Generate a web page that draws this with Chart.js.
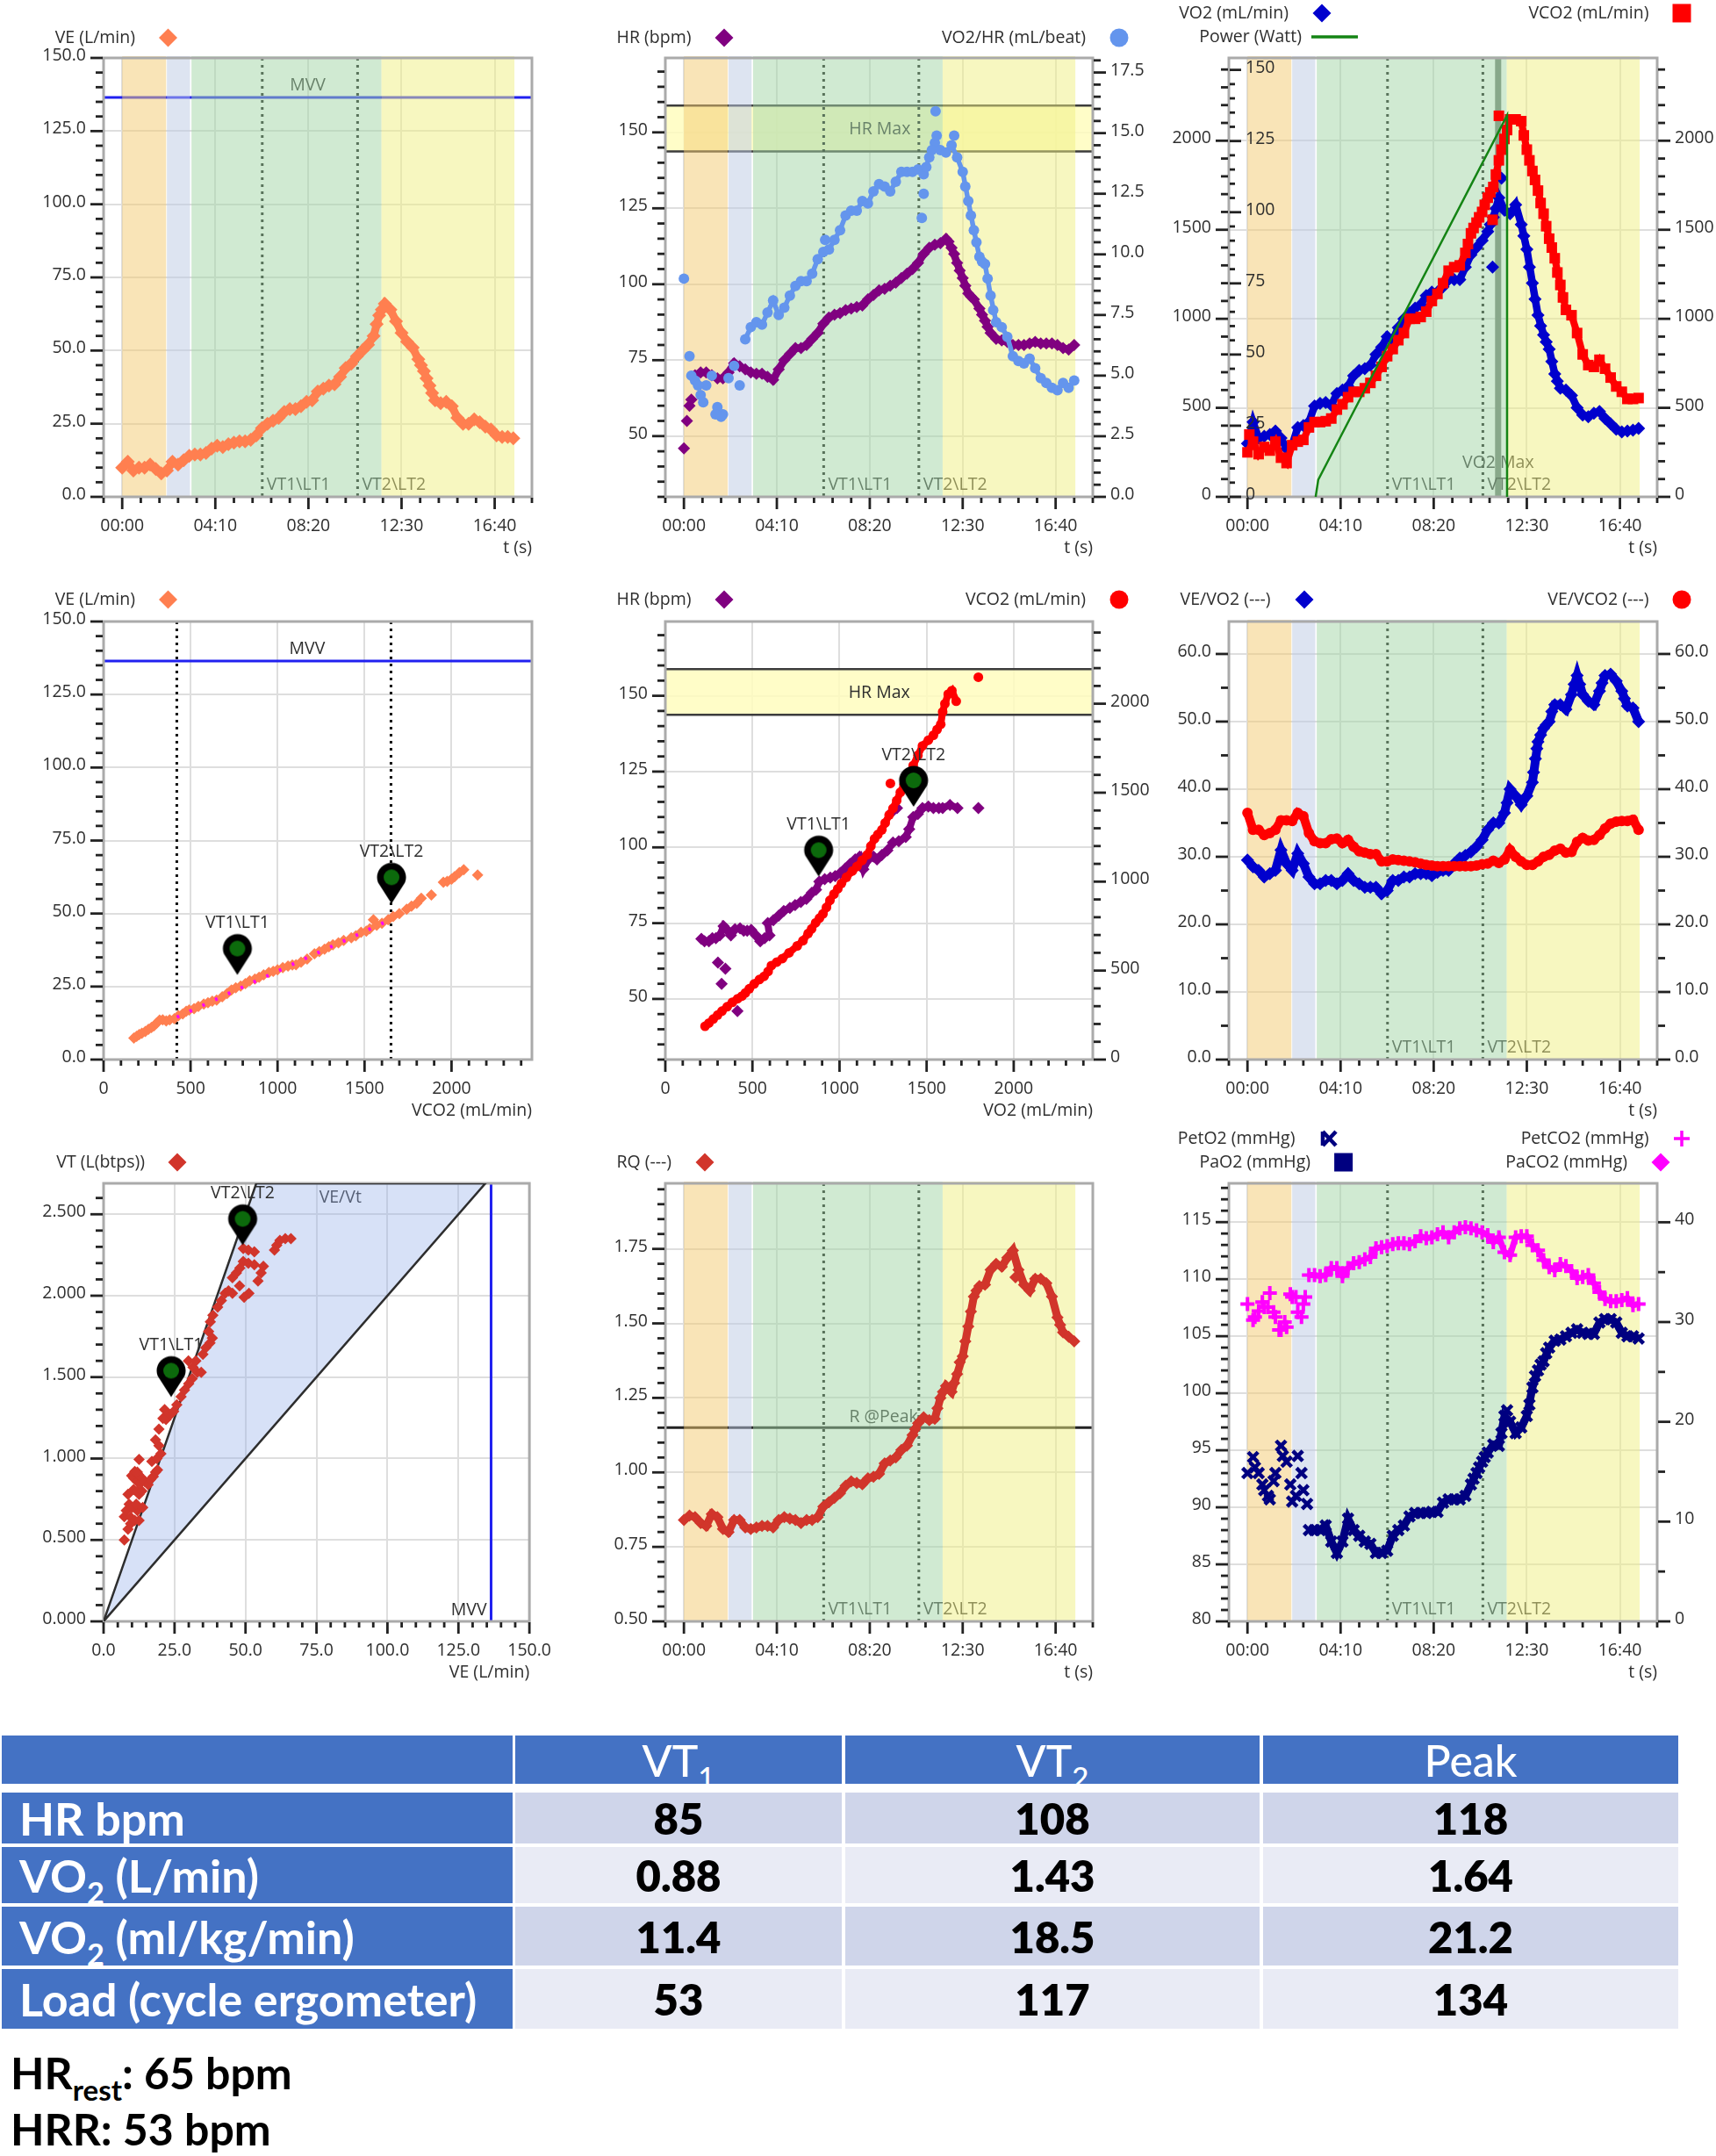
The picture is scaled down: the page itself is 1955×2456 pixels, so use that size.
<!doctype html>
<html><head><meta charset="utf-8">
<script src="https://cdn.jsdelivr.net/npm/chart.js@4/dist/chart.umd.min.js"></script>
<style>
html,body{margin:0;padding:0;background:#fff;width:1955px;height:2456px;overflow:hidden}
canvas{position:absolute;filter:blur(.6px)}
.cell{position:absolute;display:flex;align-items:center;box-sizing:border-box;font-family:Lato,sans-serif;font-weight:700;font-size:49px;white-space:nowrap}
.note{position:absolute;left:12px;font-family:Lato,sans-serif;font-weight:700;font-size:50px;color:#000;white-space:nowrap;line-height:1}
sub{font-size:66%;line-height:0;vertical-align:-0.38em}
</style></head><body>
<script>
const times=[0,15,30,45,60,75,90,105,120,135,150,165,180,195,210,225,240,255,270,285,300,315,330,345,360,375,390,405,420,435,450,465,480,495,510,525,540,555,570,585,600,615,630,645,660,675,690,705,720,735,750,765,780,795,810,825,840,855,870,885,900,915,930,945,960,975,990,1005,1020,1035,1050];
const ve=[10,12,9,10,10,11,9.5,8,9,12,
11,12.5,14,14.5,14.5,15,16.5,17.5,17,18,
18.5,19,19,19.5,21,23.5,25,26,27,29,
30,30,31,32.5,33,36,37,38,38.5,41,
44,45.5,48,50,52,55,62,66,64,60,
56,53,51,47,43,38,33,32,32.5,31,
27,25,25,26.5,25.5,24,23,21,20.5,20.5,
20];
const veExtraT=[683,697,802,817,832];
const veExtra=[59,64,45,40.5,35.5];
const hr=[46,60,70,71,71,70,69,69,71,74,
73,72,71,70.5,70.5,69.5,68.5,72,75,77,
79,79,80,82,84,87,89,90,90.5,91.5,
92,92.5,93,95,96.5,98,98.5,99.5,100.5,102,
103.5,105,107,110,112,113,113.5,115,112,107,
102,97,95,92,88,84,82,81.5,81,80,
80,80,80.5,81,80.5,80.5,80.5,80,79,78.5,
80];
const hrExtraT=[8,20,712,727,742,757,772,802,817];
const hrExtra=[55,62,114,110,104.5,99.5,96,90,86];
const vo2PerHr=[9,5.8,4.8,4.2,4.6,5,3.7,3.4,4.9,5.4,
4.6,6.5,7,7.2,7.1,7.6,8.1,7.5,7.8,8.3,
8.7,8.9,8.9,9.2,9.8,10.1,10.2,10.6,11,11.6,
11.8,11.8,12.2,12.1,12.6,12.9,12.8,12.6,13,13.4,
13.4,13.4,13.5,13.3,14,14.6,14.3,14.2,14.5,14,
13.4,12.2,11,9.9,9.6,8.3,7.2,7,6.6,5.8,
5.6,5.5,5.7,5.3,4.9,4.7,4.5,4.4,4.7,4.5,
4.8];
const vo2PerHrExtraT=[20,38,52,85,100,380,640,645,652,667,677,680,727,757,772,787,802,817,832];
const vo2PerHrExtra=[5,4.6,3.9,3.4,3.3,10.6,11.5,12.5,13.6,14.3,15.9,14.9,14.9,12.8,11.6,10.5,9.7,9,7.7];
const vo2=[300,420,330,340,350,370,330,270,290,390,
400,420,510,525,530,515,580,600,620,680,
710,720,740,800,840,900,880,950,1000,1030,
1060,1080,1130,1150,1150,1180,1220,1220,1220,1290,
1360,1400,1440,1490,1570,1680,1610,1590,1640,1530,
1390,1200,1020,910,830,690,610,600,570,500,
460,450,470,480,440,410,380,365,370,375,
385];
const vo2ExtraT=[652,667,658,682,742,757,772,787,802,817,832];
const vo2Extra=[1530,1620,1290,1790,1465,1290,1110,960,870,760,650];
const vco2=[250,310,240,280,260,310,220,190,290,310,
320,390,420,420,425,440,490,520,560,590,
590,610,640,680,730,790,830,880,920,1000,
1000,1010,1040,1100,1140,1200,1270,1290,1300,1370,
1480,1540,1600,1680,1740,1890,2010,2120,2120,2110,
1950,1830,1720,1590,1450,1340,1190,1050,1020,920,
800,740,730,770,720,670,620,590,550,550,
555];
const vco2ExtraT=[5,592,607,622,637,652,658,667,675,682,697,742,757,772,787,802,817,832,847];
const vco2Extra=[350,1420,1510,1570,1640,1710,1556,1810,2140,1950,2060,2030,1890,1780,1650,1520,1400,1260,1120];
const powerT=[183,190,697,697];
const power=[0,6,134,0];
const veVo2=[29.5,28.5,28,27,27.5,28,31,29,28,30.5,
29,27,26,26,26.5,26.5,26,26.5,27.5,26.5,
26,25.5,25.5,25.5,24.5,25,26.5,26.5,27,27,
27.5,27.5,27.5,27.2,27.7,28,28,29,29.8,30.2,
30.7,31.5,32.5,34,35,35,36.5,40,39,37.7,
39,41,47,49,50,52.5,52.5,51.8,54,56.8,
54,53,52.5,54.5,56.8,57,56,54.5,52.3,52,
50];
const veVo2ExtraT=[697,768,773,777,787,802,817,877,892,952,1012];
const veVo2Extra=[38,42.5,44.5,46,48,49.5,51.5,55.5,55.5,55.7,53.4];
const veVco2=[36.5,34,34,33.2,33.5,34,35.4,35.4,35.3,36.5,
36,33.5,32.3,32,32,32.6,32.7,32,32.5,31.5,
30.8,30.6,30.4,30.4,29.3,29.3,29.6,29.5,29.4,29.3,
29.2,29,28.8,28.7,28.6,28.6,28.6,28.6,28.6,28.6,
28.6,28.7,28.9,29,29.4,29.1,29.6,31,30,29.3,
28.8,28.8,29.3,30,30.3,30.9,31.2,30.6,30.7,32.2,
32.8,32.4,32.5,33.2,34.2,34.9,35.2,35.3,35.3,35.5,
34];
const rq=[.84,.855,.85,.83,.82,.86,.85,.81,.80,.84,
.84,.815,.81,.815,.82,.82,.815,.84,.85,.845,
.84,.83,.84,.84,.85,.885,.90,.915,.93,.955,
.97,.965,.96,.98,.985,.995,1.03,1.04,1.05,1.075,
1.09,1.125,1.165,1.185,1.175,1.18,1.25,1.29,1.27,1.33,
1.39,1.49,1.59,1.625,1.63,1.68,1.70,1.69,1.72,1.745,
1.68,1.63,1.61,1.65,1.65,1.635,1.59,1.52,1.47,1.455,
1.44];
const rqExtraT=[622,682,697,727,742,757,772,787,892,1012];
const rqExtra=[1.145,1.215,1.27,1.30,1.37,1.44,1.54,1.61,1.655,1.495];
const petO2=[93,94.4,93,91.5,90.7,93,95.4,94,90.5,94.5,
91.5,88,88,88,88.4,87,86,87,89,88,
87.5,87,86.8,86,86,86.2,87.5,88,88.4,89.2,
89.5,89.5,89.5,89.6,89.6,90.4,90.7,90.7,90.7,91,
92,93,94,94.8,95.5,95.4,98,97.5,96.5,97,
98,100.5,102,102.8,104,104.6,104.7,105,105.3,105.6,
105.3,105.2,105.2,106.2,106.5,106.5,106.2,105.3,105,105,
104.8];
const petO2ExtraT=[20,40,55,70,95,115,130,145,160,607,622,637,682,697,757,772,787,802];
const petO2Extra=[93.5,92,91,92.3,94.5,92,91,93,90.3,92.5,93.5,94.4,96.5,98.5,99,101.5,102.5,103.5];
const petCo2=[31.8,30.2,31.1,31.5,32.9,30.5,29.2,29.5,32.5,31,
31.8,34.7,34.7,34.6,34.7,35.4,35.4,34.6,35.4,35.9,
36,36.3,36.5,37.4,37.5,37.6,37.8,37.9,37.9,37.8,
38.1,38.6,38.4,38.5,38.8,39,38.5,39,39.4,39.5,
39.4,39.2,39,38.7,38,38.5,37,36.7,38.5,38.6,
38.6,37.7,37.2,36.2,35.5,35.2,35.8,35.6,35.1,34.4,
34.5,34.7,33.9,33,32.3,32.1,32.1,32.2,32.4,31.7,
31.8];
const petCo2ExtraT=[20,40,55,70,85,100,115,130,145,155];
const petCo2Extra=[30.5,32,31.5,31,29.2,30,32.8,32.5,30.5,32.5];

const scatterVco2=[174,190,205,220,240,258,275,290,305,322,340,360,380,407,430,455,475,492,520,545,576,600,625,650,682,710,735,760,788,815,840,870,894,920,950,975,1000,1030,1060,1085,1106,1135,1170,1212,1240,1270,1295,1318,1350,1380,1424,1450,1480,1510,1530,1551,1570,1600,1636,1665,1700,1742,1770,1800,1826,1884,1953,1975,2000,2017,2045,2070,2150];
const scatterVe=[7.4,8,8.6,9,9.6,10.4,11,11.6,12.5,13.5,13.6,13.2,13.6,14,15,15.6,16.5,17,17.4,18.2,19,19.5,20,20.4,21.5,22.6,23.8,24.6,25.2,26,27,27.6,28.2,29,29.8,30.2,30.7,31.5,32,32.4,32.5,33.4,34.4,36.2,37,37.8,38.6,39.3,40,40.8,41.7,42.4,43.6,44,44.8,47.9,46,46.7,47.9,49,50,51.5,52.5,53.5,55.2,56.4,60.7,61,61.8,62.6,64,65,63.2];
const fitVco2=[421,1652];
const fitVe=[14.5,48];
const scatterHrVo2=[207,225,250,270,290,313,334,350,376,400,429,450,470,493,520,545,570,598,588,620,651,680,715,745,778,810,841,865,884,915,947,975,1005,1032,1060,1090,1116,1137,1165,1195,1215,1243,1275,1307,1340,1380,1400,1423,1450,1476,1510,1539,1570,1592,1634,1677,1797,1307,1330,302,345,323,414];
const scatterHr=[69.8,69,69,70,70,71,74,73,71,73,73.3,72.5,72.5,72.8,71,69,70,71,75,76,77.5,79,80,81,82,83,85,86,88.7,89.5,90,90.5,91.5,93,94.5,96,97,92.8,96,97,96,97.5,99,101.6,102,103.4,106,110,111,113,113.5,113,113,113,114,113,113,112,113,62,60,55,46];
const scatterCo2Vo2=[228,250,275,300,325,355,385,415,440,460,482,510,540,567,590,609,640,672,710,757,790,820,840,863,885,905,925,945,968,990,1011,1040,1074,1100,1130,1159,1180,1201,1220,1243,1262,1285,1307,1328,1349,1370,1395,1423,1450,1476,1510,1539,1560,1581,1592,1605,1624,1645,1670,1797,1292];
const scatterCo2=[187,205,228,250,272,297,322,342,357,375,398,425,450,468,495,528,548,568,600,639,668,709,735,769,795,819,855,895,930,960,990,1025,1060,1085,1120,1151,1200,1241,1265,1291,1330,1375,1412,1455,1502,1545,1595,1653,1710,1763,1795,1823,1855,1884,1954,2000,2054,2074,2014,2149,1552];
const scatterVtVe=[7.3,8.6,9.5,7.3,8,9.5,11,12.5,11.9,9,10,11.5,13.8,12.5,8.6,10.6,12,13.5,10.6,11.8,13,9.9,11,12.3,12.5,11.9,13.5,14.5,15.7,16.5,17.5,18.3,19,17,18.8,20.2,19.5,18.3,19.5,20.9,21.5,22,23.5,24.7,25.8,27.3,28.5,30,31.2,29.9,31.5,33,34.4,32.5,35,36,37.5,38.3,37,37.6,38.5,40.2,41.5,42.8,44,45.4,47.9,51.2,49.5,45.4,46.8,48,49.2,51,53.1,56.3,54.4,55.5,49.2,51,53.1,60.2,61,62.1,64,66];
const scatterVt=[.5,.566,.6,.643,.68,.64,.62,.62,.68,.72,.70,.72,.70,.78,.78,.81,.80,.80,.88,.86,.85,.895,.92,.90,.994,.917,.88,.86,.84,.87,.89,.917,.93,.983,1.0,1.03,1.08,1.115,1.18,1.247,1.30,1.24,1.27,1.29,1.33,1.38,1.42,1.46,1.49,1.6,1.56,1.53,1.53,1.60,1.64,1.68,1.71,1.74,1.78,1.84,1.88,1.93,1.97,2.015,2.03,2.015,2.06,2.015,1.99,2.11,2.14,2.17,2.21,2.2,2.19,2.18,2.09,2.14,2.29,2.28,2.27,2.28,2.31,2.34,2.35,2.35];
const wedgeVe=[0,53.8,134.5,0];
const wedgeVt=[0,2.69,2.69,0];

const phaseRanges=[[0,118],[120,182],[186,696],[696,1053]];
const phaseColors=['rgba(243,201,111,.5)','rgba(187,201,227,.5)','rgba(161,213,165,.5)','rgba(239,239,129,.5)'];
const vtTimes=[376,632];
const vtNames=['VT1\\LT1','VT2\\LT2'];
const pinVco2=[769,1655], pinVeA=[29,53.4];
const pinVo2=[880,1425], pinHrA=[90.4,113.4];
const pinVe=[23.8,49], pinVtA=[1.378,2.31];

const tableHeader=['','VT<sub>1</sub>','VT<sub>2</sub>','Peak'];
const rowLabels=['HR bpm','VO<sub>2</sub> (L/min)','VO<sub>2</sub> (ml/kg/min)','Load (cycle ergometer)'];
const vt1Values=['85','0.88','11.4','53'];
const vt2Values=['108','1.43','18.5','117'];
const peakValues=['118','1.64','21.2','134'];

Chart.defaults.animation=false;
const FONT='"Open Sans",sans-serif', FS=19.5, TXT='#2e2e2e';
const ORANGE='#ff7f50',PURPLE='#800080',SKY='#6495ed',BLUE='#0000cd',RED='#ff0000',BRICK='#d1352b',NAVY='#000080',MAG='#ff00ff',GREEN='#148414';
const isMul=(v,m)=>Math.abs(v/m-Math.round(v/m))<1e-6;
const p2=n=>String(n).padStart(2,'0');
const mmss=v=>p2(Math.floor(v/60))+':'+p2(v%60);
const zip=(X,Y,xX=[],xY=[])=>X.concat(xX).map((x,i)=>({x,y:Y.concat(xY)[i]}));

function pinSprite(){
  const c=document.createElement('canvas');c.width=40;c.height=100;
  const g=c.getContext('2d');const cx=20,tip=50,cy=tip-30,r=16.5;
  g.fillStyle='#000';g.beginPath();
  g.arc(cx,cy,r,Math.PI*0.88,Math.PI*0.12);g.lineTo(cx,tip);g.closePath();g.fill();
  g.fillStyle='#0c6a0c';g.beginPath();g.arc(cx,cy,9,0,7);g.fill();
  return c;
}
const PIN=pinSprite();

function marker(g,k,x,y,c){
  g.fillStyle=c;g.strokeStyle=c;g.beginPath();
  if(k==='diamond'){g.moveTo(x,y-10.5);g.lineTo(x+10.5,y);g.lineTo(x,y+10.5);g.lineTo(x-10.5,y);g.closePath();g.fill();}
  else if(k==='circle'){g.arc(x,y,10.5,0,7);g.fill();}
  else if(k==='square'){g.fillRect(x-10.5,y-10.5,21,21);}
  else if(k==='line'){g.lineWidth=3.5;g.moveTo(x,y);g.lineTo(x+53,y);g.stroke();}
  else if(k==='plus'){g.lineWidth=3.5;g.moveTo(x-9,y);g.lineTo(x+9,y);g.moveTo(x,y-9);g.lineTo(x,y+9);g.stroke();}
  else if(k==='x'){g.lineWidth=4.5;g.moveTo(x-7,y-8);g.lineTo(x+8,y+8);g.moveTo(x-7,y+8);g.lineTo(x+8,y-8);g.moveTo(x-7,y-8);g.lineTo(x-7,y+8);g.stroke();}
}

const RIGHT_W=66;
function axisScale(a,pos,extra){
  const maj=a.major;
  return Object.assign({type:'linear',position:pos,min:a.min,max:a.max,
    afterFit:s=>{s.width=a.w??(pos==='right'?RIGHT_W:100);},
    grid:{display:!!a.grid,drawTicks:false,lineWidth:2,color:c=>isMul(c.tick.value,maj)?'#dedede':'transparent'},
    border:{display:false},
    ticks:{stepSize:a.minor,autoSkip:false,includeBounds:false,padding:a.pad??20,labelOffset:-2.5,mirror:!!a.mirror,z:a.mirror?1:0,
      font:{family:FONT,size:FS},color:TXT,callback:v=>isMul(v,maj)?v.toFixed(a.digits):''}},extra||{});
}

function make(s){
  const [cx,cy,w,h]=s.box,[l,t,r,b]=s.plot;
  const cv=document.createElement('canvas');cv.width=w;cv.height=h;cv.style.left=cx+'px';cv.style.top=cy+'px';
  document.body.appendChild(cv);
  const X=s.x;
  const scales={x:{type:'linear',position:'bottom',min:X.min,max:X.max,
    afterFit:sc=>{sc.height=70;},
    grid:{drawTicks:false,lineWidth:2,color:c=>isMul(c.tick.value,X.major)?'#dedede':'transparent'},
    border:{display:false},
    ticks:{stepSize:X.minor,autoSkip:false,includeBounds:false,maxRotation:0,padding:22,font:{family:FONT,size:FS},color:TXT,
      callback:v=>isMul(v,X.major)?(X.fmt?X.fmt(v):(X.digits!=null?v.toFixed(X.digits):String(v))):''},
    title:{display:true,text:X.title,align:'end',color:TXT,font:{family:FONT,size:FS},padding:{top:0,bottom:0}}},
    y:axisScale(Object.assign({grid:true},s.y),'left',{weight:2})};
  if(s.y2)scales.y2=axisScale(s.y2,'right');
  if(s.inner)scales.p=axisScale(Object.assign({w:0,mirror:true,pad:19},s.inner),'left',{weight:1});
  const rightW=s.y2?RIGHT_W:0;
  const overlay={id:'overlay',
    beforeDatasetsDraw(ch){
      const g=ch.ctx,a=ch.chartArea,xs=ch.scales.x,ys=ch.scales.y;g.save();
      if(s.hrBand){const y1=ys.getPixelForValue(s.hrBand[1]),y0=ys.getPixelForValue(s.hrBand[0]);
        g.fillStyle='rgba(255,253,190,.85)';g.fillRect(a.left,y1,a.right-a.left,y0-y1);
        g.strokeStyle='#3c3c3c';g.lineWidth=2.5;g.beginPath();g.moveTo(a.left,y1);g.lineTo(a.right,y1);g.moveTo(a.left,y0);g.lineTo(a.right,y0);g.stroke();}
      (s.hLines||[]).forEach(d=>{const y=ys.getPixelForValue(d.v);g.strokeStyle=d.c;g.lineWidth=d.w;g.beginPath();g.moveTo(a.left,y);g.lineTo(a.right,y);g.stroke();});
      (s.vLines||[]).forEach(d=>{const x=xs.getPixelForValue(d.v);g.strokeStyle=d.c;g.lineWidth=d.w;g.beginPath();g.moveTo(x,a.top);g.lineTo(x,a.bottom);g.stroke();});
      (s.dots||[]).forEach(v=>{const x=xs.getPixelForValue(v);g.strokeStyle='#111';g.lineWidth=3;g.setLineDash([3,5]);g.beginPath();g.moveTo(x,a.top);g.lineTo(x,a.bottom);g.stroke();g.setLineDash([]);});
      g.font=FS+'px '+FONT;g.fillStyle=TXT;g.textBaseline='middle';
      if(s.phases){g.textAlign='left';vtTimes.forEach((v,i)=>g.fillText(vtNames[i],xs.getPixelForValue(v)+5,a.bottom-14));}
      (s.texts||[]).forEach(d=>{g.textAlign=d.a||'center';g.fillText(d.t,xs.getPixelForValue(d.x),ys.getPixelForValue(d.y));});
      if(s.phases){phaseRanges.forEach((pr,i)=>{const x0=xs.getPixelForValue(pr[0]),x1=xs.getPixelForValue(pr[1]);g.fillStyle=phaseColors[i];g.fillRect(x0,a.top-2,x1-x0,a.bottom-a.top+3);});}
      g.strokeStyle='#aaa';g.lineWidth=3;g.strokeRect(a.left,a.top,a.right-a.left,a.bottom-a.top);
      g.strokeStyle='#222';g.lineWidth=2.8;
      Object.values(ch.scales).forEach(sc=>{
        const cfg=sc.id==='x'?X:sc.id==='y'?s.y:sc.id==='y2'?s.y2:s.inner;
        sc.ticks.forEach(tk=>{const v=tk.value,px=sc.getPixelForValue(v),M=isMul(v,cfg.major);
          g.beginPath();
          if(sc.id==='x'){g.moveTo(px,a.bottom+1);g.lineTo(px,a.bottom+(M?14:7));}
          else if(sc.id==='y'){g.moveTo(a.left-1,px);g.lineTo(a.left-(M?15:9),px);}
          else if(sc.id==='y2'){g.moveTo(a.right+1,px);g.lineTo(a.right+(M?15:9),px);}
          else{g.moveTo(a.left+1,px);g.lineTo(a.left+(M?14:7),px);}
          g.stroke();});
      });
      g.restore();
    },
    afterDatasetsDraw(ch){
      const g=ch.ctx,xs=ch.scales.x,ys=ch.scales.y;g.save();
      g.font=FS+'px '+FONT;g.fillStyle=TXT;g.textAlign='center';g.textBaseline='middle';
      if(s.pins)s.pins.x.forEach((v,i)=>g.fillText(vtNames[i],xs.getPixelForValue(v),ys.getPixelForValue(s.pins.y[i])-59));
      (s.legend||[]).forEach(e=>{
        const ly=e.y-cy;
        g.textAlign='right';g.fillStyle=TXT;g.fillText(e.t,e.tx-cx,ly);
        marker(g,e.k,e.mx-cx,ly,e.c);
      });
      g.restore();
    }};
  const ds=s.datasets.slice();
  if(s.pins)ds.unshift({type:'scatter',data:zip(s.pins.x,s.pins.y),pointStyle:PIN,pointRadius:10,clip:false,yAxisID:'y'});
  return new Chart(cv,{type:'scatter',data:{datasets:ds},
    options:{responsive:false,devicePixelRatio:1,animation:false,
      layout:{padding:{left:l-cx-100,top:t-cy,right:cx+w-r-rightW,bottom:cy+h-b-70}},
      plugins:{legend:{display:false},tooltip:{enabled:false},title:{display:false}},scales},
    plugins:[overlay]});
}
const pt=(data,c,style,r,axis,extra)=>Object.assign({data,backgroundColor:c,borderColor:c,pointStyle:style,pointRadius:r,pointBorderWidth:0,showLine:false,yAxisID:axis||'y'},extra||{});
/* the reference's marks overlap into a solid chain: join the same readings under the markers */
const chain=(X,Y,c,w,axis,from=-1e9,to=1e9)=>({type:'line',data:zip(X,Y).filter(p=>p.x>=from&&p.x<=to),borderColor:c,borderWidth:w,pointRadius:0,tension:0,yAxisID:axis||'y'});

const tx={min:-50,max:1100,minor:50,major:250,fmt:mmss,title:'t (s)'};
const C1=[0,650],C2=[650,670],C3=[1300,655];
const R1=[0,650],R2=[650,650],R3=[1285,675];
const box=(c,r)=>[c[0],r[0],c[1],r[1]];
const L1=[118,606],L2=[758,1245],L3=[1400,1888];
const Y1=[66,566],Y2=[708,1207],Y3=[1348,1847];
const pl=(a,b)=>[a[0],b[0],a[1],b[1]];

/* 1: VE vs time */
make({box:box(C1,R1),plot:pl(L1,Y1),x:tx,phases:true,dots:vtTimes,
  y:{min:0,max:150,minor:5,major:25,digits:1},
  hLines:[{v:136.5,c:'#2020f0',w:3}],texts:[{t:'MVV',x:498,y:140.5}],
  legend:[{t:'VE (L/min)',tx:154,mx:191.5,y:43,k:'diamond',c:ORANGE}],
  datasets:[pt(zip(times,ve,veExtraT,veExtra),ORANGE,'rectRot',8),chain(times,ve,ORANGE,9)]});

/* 2: HR and VO2/HR */
make({box:box(C2,R1),plot:pl(L2,Y1),x:tx,phases:true,dots:vtTimes,
  y:{min:30,max:174.5,minor:5,major:25,digits:0},
  y2:{min:0,max:18.1,minor:.5,major:2.5,digits:1},
  hrBand:[143.7,158.8],texts:[{t:'HR Max',x:527,y:151}],
  legend:[{t:'HR (bpm)',tx:787.5,mx:825,y:43,k:'diamond',c:PURPLE},{t:'VO2/HR (mL/beat)',tx:1237,mx:1275,y:43,k:'circle',c:SKY}],
  datasets:[pt(zip(times,vo2PerHr,vo2PerHrExtraT,vo2PerHrExtra),SKY,'circle',6,'y2'),chain(times,vo2PerHr,SKY,5.5,'y2',160),
    pt(zip(times,hr,hrExtraT,hrExtra),PURPLE,'rectRot',7),chain(times,hr,PURPLE,8.5,'y',30)]});

/* 3: VO2, VCO2, power */
make({box:box(C3,R1),plot:pl(L3,Y1),x:tx,phases:true,dots:vtTimes,
  y:{min:0,max:2465,minor:100,major:500,digits:0},
  y2:{min:0,max:2465,minor:100,major:500,digits:0},
  inner:{min:0,max:154.2,minor:5,major:25,digits:0},
  vLines:[{v:673,c:'#6e7a6e',w:7}],texts:[{t:'VO2 Max',x:673,y:190}],
  legend:[{t:'VO2 (mL/min)',tx:1468,mx:1506,y:15,k:'diamond',c:BLUE},{t:'VCO2 (mL/min)',tx:1878.5,mx:1916,y:15,k:'square',c:RED},{t:'Power (Watt)',tx:1483,mx:1494,y:42,k:'line',c:GREEN}],
  datasets:[
    {type:'line',data:zip(powerT,power),borderColor:GREEN,borderWidth:2.5,pointRadius:0,yAxisID:'p',tension:0},
    pt(zip(times,vco2,vco2ExtraT,vco2Extra),RED,'rect',8.5),chain(times,vco2,RED,8),
    pt(zip(times,vo2,vo2ExtraT,vo2Extra),BLUE,'rectRot',7.5),chain(times,vo2,BLUE,8.5)]});

/* 4: VE vs VCO2 */
make({box:box(C1,R2),plot:pl(L1,Y2),x:{min:0,max:2462,minor:100,major:500,title:'VCO2 (mL/min)'},dots:[421,1652],
  y:{min:0,max:150,minor:5,major:25,digits:1},
  hLines:[{v:136.5,c:'#2020f0',w:3}],texts:[{t:'MVV',x:1170,y:140.5}],
  pins:{x:pinVco2,y:pinVeA},
  legend:[{t:'VE (L/min)',tx:154,mx:191.5,y:683,k:'diamond',c:ORANGE}],
  datasets:[
    {type:'line',data:zip(fitVco2,fitVe),borderColor:MAG,borderWidth:4,borderDash:[3,13],pointRadius:0,tension:0},
    pt(zip(scatterVco2,scatterVe),ORANGE,'rectRot',6.5)]});

/* 5: HR and VCO2 vs VO2 */
make({box:box(C2,R2),plot:pl(L2,Y2),x:{min:0,max:2454,minor:100,major:500,title:'VO2 (mL/min)'},
  y:{min:30,max:174.5,minor:5,major:25,digits:0},
  y2:{min:0,max:2462,minor:100,major:500,digits:0},
  hrBand:[143.7,158.8],texts:[{t:'HR Max',x:1228,y:151}],
  pins:{x:pinVo2,y:pinHrA},
  legend:[{t:'HR (bpm)',tx:787.5,mx:825,y:683,k:'diamond',c:PURPLE},{t:'VCO2 (mL/min)',tx:1237,mx:1275,y:683,k:'circle',c:RED}],
  datasets:[pt(zip(scatterCo2Vo2,scatterCo2),RED,'circle',5.5,'y2'),
    chain(scatterCo2Vo2.slice(0,59),scatterCo2.slice(0,59),RED,8,'y2'),
    pt(zip(scatterHrVo2,scatterHr),PURPLE,'rectRot',7),
    chain(scatterHrVo2.slice(0,56),scatterHr.slice(0,56),PURPLE,8)]});

/* 6: ventilatory equivalents */
make({box:box(C3,R2),plot:pl(L3,Y2),x:tx,phases:true,dots:vtTimes,
  y:{min:0,max:64.8,minor:5,major:10,digits:1},
  y2:{min:0,max:64.8,minor:5,major:10,digits:1},
  legend:[{t:'VE/VO2 (---)',tx:1447.5,mx:1486,y:683,k:'diamond',c:BLUE},{t:'VE/VCO2 (---)',tx:1878.5,mx:1916,y:683,k:'circle',c:RED}],
  datasets:[pt(zip(times,veVco2),RED,'circle',6),chain(times,veVco2,RED,10),
    pt(zip(times,veVo2,veVo2ExtraT,veVo2Extra),BLUE,'rectRot',7.5),chain(times,veVo2,BLUE,10)]});

/* 7: VT vs VE */
make({box:box(C1,R3),plot:pl(L1,Y3),x:{min:0,max:150,minor:5,major:25,digits:1,title:'VE (L/min)'},
  y:{min:0,max:2.69,minor:.1,major:.5,digits:3},
  vLines:[{v:136.5,c:'#2020f0',w:3}],texts:[{t:'VE/Vt',x:83.4,y:2.6},{t:'MVV',x:135,y:.07,a:'right'}],
  pins:{x:pinVe,y:pinVtA},
  legend:[{t:'VT (L(btps))',tx:165,mx:202,y:1324,k:'diamond',c:BRICK}],
  datasets:[
    pt(zip(scatterVtVe,scatterVt),BRICK,'rectRot',6.5),
    {type:'line',data:zip(wedgeVe,wedgeVt),borderColor:'#2e2e2e',backgroundColor:'rgba(150,175,235,.38)',borderWidth:2.5,fill:'shape',pointRadius:0,tension:0}]});

/* 8: RQ */
make({box:box(C2,R3),plot:pl(L2,Y3),x:tx,phases:true,dots:vtTimes,
  y:{min:.5,max:1.97,minor:.05,major:.25,digits:2},
  hLines:[{v:1.15,c:'#222',w:3}],texts:[{t:'R @Peak',x:537,y:1.184}],
  legend:[{t:'RQ (---)',tx:765,mx:803,y:1324,k:'diamond',c:BRICK}],
  datasets:[pt(zip(times,rq,rqExtraT,rqExtra),BRICK,'rectRot',7),chain(times,rq,BRICK,9)]});

/* 9: PetO2 and PetCO2 */
make({box:box(C3,R3),plot:pl(L3,Y3),x:tx,phases:true,dots:vtTimes,
  y:{min:80,max:118.4,minor:1,major:5,digits:0},
  y2:{min:0,max:43.9,minor:5,major:10,digits:0},
  legend:[{t:'PetO2 (mmHg)',tx:1475.4,mx:1514,y:1297,k:'x',c:NAVY},{t:'PaO2 (mmHg)',tx:1493,mx:1530.6,y:1324,k:'square',c:NAVY},
          {t:'PetCO2 (mmHg)',tx:1878.5,mx:1916,y:1297,k:'plus',c:MAG},{t:'PaCO2 (mmHg)',tx:1854,mx:1892,y:1324,k:'diamond',c:MAG}],
  datasets:[
    Object.assign(pt(zip(times,petO2,petO2ExtraT,petO2Extra),NAVY,'crossRot',8),{pointBorderWidth:4.5,pointBorderColor:NAVY}),
    chain(times,petO2,NAVY,9,'y',165),
    Object.assign(pt(zip(times,petCo2,petCo2ExtraT,petCo2Extra),MAG,'cross',8,'y2'),{pointBorderWidth:4,pointBorderColor:MAG}),
    chain(times,petCo2,MAG,7,'y2',165)]});

/* table */
const colX=[[2,584],[587,959],[963,1435],[1439,1912]];
const rowY=[[1977,2032],[2042,2100],[2104,2168],[2172,2239],[2243,2311]];
function cell(html,c,r,bg,fg,left,weight,size){
  const d=document.createElement('div');d.className='cell';
  const sp=document.createElement('span');sp.innerHTML=html;d.appendChild(sp);
  d.style.cssText+=`left:${colX[c][0]}px;top:${rowY[r][0]}px;width:${colX[c][1]-colX[c][0]}px;height:${rowY[r][1]-rowY[r][0]}px;background:${bg};color:${fg};justify-content:${left?'flex-start':'center'};padding-left:${left?20:0}px;font-weight:${weight};font-size:${size}px;`;
  document.body.appendChild(d);
}
tableHeader.forEach((h,i)=>cell(h,i,0,'#4472c4','#fff',false,500,50));
rowLabels.forEach((h,i)=>{
  cell(h,0,i+1,'#4472c4','#fff',true,700,52);
  const bg=i%2?'#e9ebf5':'#cfd5ea';
  cell(vt1Values[i],1,i+1,bg,'#000',false,800,49);
  cell(vt2Values[i],2,i+1,bg,'#000',false,800,49);
  cell(peakValues[i],3,i+1,bg,'#000',false,800,49);
});
[['HR<sub>rest</sub>: 65 bpm',2336],['HRR: 53 bpm',2400]].forEach(([h,y])=>{
  const d=document.createElement('div');d.className='note';d.innerHTML=h;d.style.top=y+'px';document.body.appendChild(d);
});
</script>
</body></html>
